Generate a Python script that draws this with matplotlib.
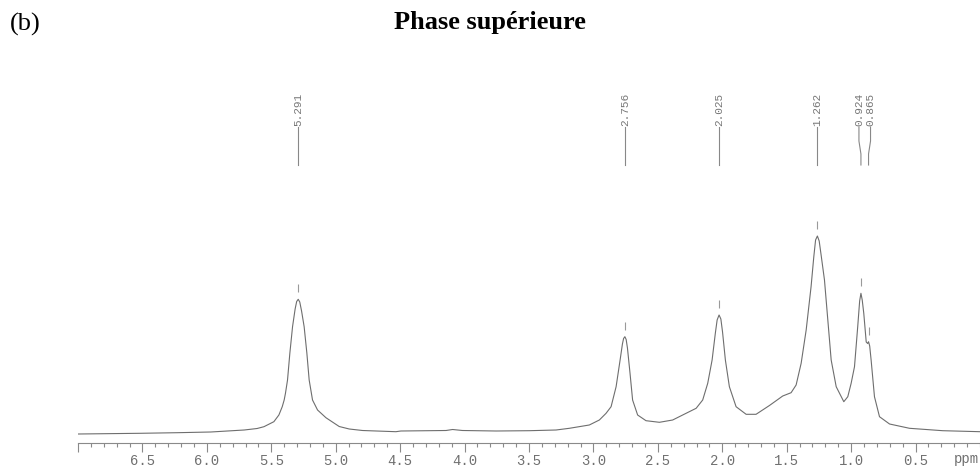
import numpy as np
import matplotlib
matplotlib.use("Agg")
import matplotlib.pyplot as plt
from matplotlib.ticker import MultipleLocator
from matplotlib.transforms import blended_transform_factory

# spectrum (chemical shift in ppm, intensity in arbitrary units)
ppm = [7.00, 6.52, 6.23, 5.97, 5.71, 5.61, 5.557, 5.480, 5.441, 5.415, 5.400,
       5.390, 5.374, 5.356, 5.335, 5.315, 5.303, 5.291, 5.279, 5.265, 5.245,
       5.224, 5.206, 5.180, 5.141, 5.076, 4.973, 4.895, 4.792, 4.533, 4.494,
       4.144, 4.093, 4.016, 3.756, 3.498, 3.290, 3.187, 3.032, 2.954, 2.902,
       2.863, 2.824, 2.793, 2.775, 2.766, 2.756, 2.746, 2.736, 2.716, 2.696,
       2.657, 2.592, 2.488, 2.385, 2.281, 2.203, 2.152, 2.113, 2.079, 2.054,
       2.040, 2.025, 2.011, 1.998, 1.976, 1.945, 1.893, 1.815, 1.738, 1.634,
       1.531, 1.466, 1.427, 1.388, 1.349, 1.311, 1.290, 1.276, 1.262, 1.248,
       1.232, 1.207, 1.181, 1.155, 1.116, 1.057, 1.026, 1.000, 0.974, 0.949,
       0.934, 0.924, 0.914, 0.902, 0.883, 0.872, 0.865, 0.856, 0.845, 0.819,
       0.780, 0.702, 0.547, 0.289, 0.00]
intensity = [0.0, 0.7, 1.3, 2.0, 4.0, 5.5, 7.3, 12.3, 19.0, 27.3, 34.0,
             40.7, 54.0, 80.7, 107.3, 125.0, 132.5, 134.7, 132.0, 123.0, 107.3,
             81.0, 54.0, 34.0, 24.0, 16.3, 7.5, 5.0, 3.5, 2.3, 3.0,
             3.5, 4.5, 3.5, 3.0, 3.3, 4.0, 5.7, 9.0, 14.0, 20.7,
             27.3, 47.3, 74.0, 90.0, 95.5, 97.3, 94.5, 86.0, 60.7, 34.0,
             19.0, 13.3, 11.7, 14.0, 20.7, 25.7, 34.0, 50.7, 74.0, 100.7,
             114.0, 119.0, 115.0, 102.0, 74.0, 47.3, 27.3, 19.7, 19.7, 28.5,
             38.0, 41.3, 49.0, 70.7, 104.0, 147.3, 177.0, 194.0, 198.0, 193.0,
             178.0, 154.0, 114.0, 74.0, 47.3, 32.3, 37.3, 50.7, 67.3, 107.3,
             133.0, 140.7, 134.0, 120.7, 92.0, 90.5, 92.3, 88.0, 74.0, 37.3,
             17.3, 10.0, 5.7, 3.3, 2.3]

peak_ppm = [5.291, 2.756, 2.025, 1.262, 0.924, 0.865]
peak_height = [134.7, 97.3, 119.0, 198.0, 140.7, 92.3]

W, H = 980, 468
fig = plt.figure(figsize=(W / 100, H / 100), dpi=100)
ax = fig.add_axes([78 / W, (H - 443) / H, (W - 78) / W, 443 / H])
ax.patch.set_alpha(0)

ax.plot(ppm, intensity, color="#6e6e6e", lw=0.8)
ax.set_xlim(7.0, 0.0)
ax.set_ylim(-9, 434)

for s in ["top", "left", "right"]:
    ax.spines[s].set_visible(False)
ax.spines["bottom"].set_color("#8a8a8a")
ax.spines["bottom"].set_linewidth(0.8)
ax.set_yticks([])

major = np.arange(0.5, 7.01, 0.5)
ax.set_xticks(major)
ax.set_xticklabels(["" if abs(v - 7.0) < 1e-6 else f"{v:.1f}" for v in major])
ax.xaxis.set_minor_locator(MultipleLocator(0.1))
ax.tick_params(axis="x", which="major", length=6.5, width=0.8, color="#8a8a8a",
               pad=1.5, labelsize=10, labelcolor="#707070")
ax.tick_params(axis="x", which="minor", length=3, width=0.8, color="#8a8a8a")
for lab in ax.get_xticklabels():
    lab.set_fontfamily("Liberation Mono")

fig.text(0.999, 1 - 459 / H, "ppm", ha="right", va="center",
         family="Liberation Mono", size=10, color="#707070")

# peak pick markers above each maximum
ax.vlines(peak_ppm, [h + 7 for h in peak_height], [h + 15 for h in peak_height],
          color="#9a9a9a", lw=0.8)

# spread close labels apart
label_x = list(peak_ppm)
min_gap = 0.09
for i in range(1, len(label_x)):
    if label_x[i - 1] - label_x[i] < min_gap:
        mid = (label_x[i - 1] + label_x[i]) / 2
        label_x[i - 1] = mid + min_gap / 2
        label_x[i] = mid - min_gap / 2

trans = blended_transform_factory(ax.transData, ax.transAxes)
def fy(py):
    return (443 - py) / 443

for p, lx in zip(peak_ppm, label_x):
    ax.text(lx, fy(109), f"{p:.3f}", rotation=90, ha="center", va="center",
            family="Liberation Mono", size=8, color="#777777", transform=trans)
    ax.plot([lx, lx, p, p], [fy(127), fy(141), fy(154), fy(165)],
            color="#888888", lw=0.8, transform=trans, clip_on=False)

fig.text(0.5, 1 - 23 / H, "Phase supérieure", ha="center", va="center",
         family="Liberation Serif", weight="bold", size=19)
fig.text(10 / W, 1 - 24 / H, "(b)", ha="left", va="center",
         family="Liberation Serif", size=19)

fig.savefig("out.png", dpi=100)
